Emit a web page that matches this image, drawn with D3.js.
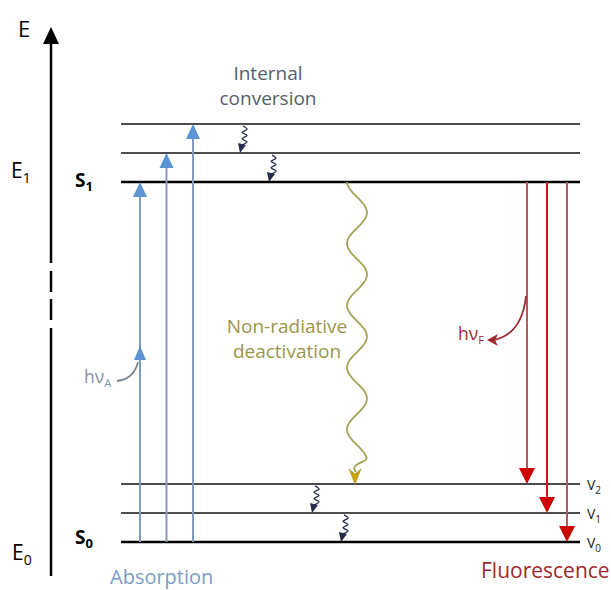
<!DOCTYPE html>
<html><head><meta charset="utf-8">
<script src="https://cdn.jsdelivr.net/npm/d3@7/dist/d3.min.js"></script>
<style>body{margin:0;background:#fff}svg{display:block}text{font-family:"Open Sans",Lato,sans-serif}</style>
</head><body><svg id="c" width="611" height="590"></svg>
<script>
// ---- data ----
const levels = [
  {state:"S0", v:0, energy:0,    thick:true},
  {state:"S0", v:1, energy:1,    thick:false},
  {state:"S0", v:2, energy:2,    thick:false},
  {state:"S1", v:0, energy:12.4, thick:true},
  {state:"S1", v:1, energy:13.4, thick:false},
  {state:"S1", v:2, energy:14.4, thick:false}
];
const absorption = [ {from:0, to:12.4}, {from:0, to:13.4}, {from:0, to:14.4} ];
const fluorescence = [ {from:12.4, to:2}, {from:12.4, to:1}, {from:12.4, to:0} ];
const internalConv = [ {from:14.4, to:13.4}, {from:13.4, to:12.4}, {from:2, to:1}, {from:1, to:0} ];
const nonRadiative = [ {from:12.4, to:2} ];
const energyLabels = ["E","E1","E0"];

const svg = d3.select("#c");
const y = d3.scaleLinear().domain([0, 14.4]).range([542, 124]);
const xLevel = d3.scaleLinear().domain([0,1]).range([121, 580]);
const xAbs = d3.scalePoint().domain(d3.range(absorption.length)).range([140, 193]);
const xFl = d3.scalePoint().domain(d3.range(fluorescence.length)).range([527, 567]);
const icX = [243, 272, 315, 344];

// energy axis
const ax = 51;
[[40,263],[271,292],[299,320],[328,576]].forEach(d=>svg.append("line").attr("x1",ax).attr("x2",ax).attr("y1",d[0]).attr("y2",d[1]).attr("stroke","#000").attr("stroke-width",2.5));
svg.append("path").attr("d",`M${ax},27 L${ax-8},44 L${ax+8},44 Z`).attr("fill","#000");
svg.append("text").attr("x",18).attr("y",37).attr("font-size",22).text(energyLabels[0]);
const e1 = svg.append("text").attr("x",11).attr("y",178).attr("font-size",21).text("E");
e1.append("tspan").attr("font-size",14).attr("dy",5).text("1");
const e0 = svg.append("text").attr("x",12).attr("y",560).attr("font-size",21).text("E");
e0.append("tspan").attr("font-size",14).attr("dy",5).text("0");

// levels
svg.selectAll("line.lvl").data(levels).join("line").attr("class","lvl")
  .attr("x1",xLevel(0)).attr("x2",xLevel(1))
  .attr("y1",d=>y(d.energy)).attr("y2",d=>y(d.energy))
  .attr("stroke",d=>d.thick?"#000":"#111").attr("stroke-width",d=>d.thick?2.4:1.4);

// state labels
[["S","1",187],["S","0",544]].forEach(([s,sub,yy])=>{
  const t = svg.append("text").attr("x",75).attr("y",yy).attr("font-size",19).attr("font-weight","bold").text(s);
  t.append("tspan").attr("font-size",13).attr("dy",4).text(sub);
});
// V labels
levels.filter(d=>d.state==="S0").forEach(d=>{
  const t = svg.append("text").attr("x",587).attr("y",y(d.energy)+6).attr("font-size",14).attr("fill","#222").text("V");
  t.append("tspan").attr("font-size",10).attr("dy",4).text(String(d.v));
});

// absorption arrows
absorption.forEach((d,i)=>{
  const x = xAbs(i);
  svg.append("line").attr("x1",x).attr("x2",x).attr("y1",y(d.from)).attr("y2",y(d.to)+12).attr("stroke","#7f9cc0").attr("stroke-width",2);
  svg.append("path").attr("d",`M${x},${y(d.to)} L${x-7},${y(d.to)+15} L${x+7},${y(d.to)+15} Z`).attr("fill","#5b93d3");
});
// hvA
svg.append("path").attr("d","M117,381 Q134,379 138,362").attr("fill","none").attr("stroke","#7a8799").attr("stroke-width",1.8);
svg.append("path").attr("d",`M${xAbs(0)},346 L${xAbs(0)-6},360 L${xAbs(0)+6},360 Z`).attr("fill","#5b93d3");
const hva = svg.append("text").attr("x",84).attr("y",383).attr("font-size",17.5).attr("fill","#8290a8").text("hν");
hva.append("tspan").attr("font-size",11).attr("dy",4).text("A");

// fluorescence arrows
const flLine = ["#b55a5c","#d0181c","#b55a5c"];
fluorescence.forEach((d,i)=>{
  const x = xFl(i);
  svg.append("line").attr("x1",x).attr("x2",x).attr("y1",y(d.from)).attr("y2",y(d.to)-14).attr("stroke",flLine[i]).attr("stroke-width",2);
  svg.append("path").attr("d",`M${x},${y(d.to)} L${x-8},${y(d.to)-16} L${x+8},${y(d.to)-16} Z`).attr("fill","#cc0000");
});
// hvF
svg.append("path").attr("d","M526,296 Q522,334 494,340").attr("fill","none").attr("stroke","#a0282c").attr("stroke-width",1.8);
svg.append("path").attr("d","M487,340 L498,334 L495,340 L498,346 Z").attr("fill","#a0282c");
const hvf = svg.append("text").attr("x",458).attr("y",340).attr("font-size",17.5).attr("fill","#a0282c").text("hν");
hvf.append("tspan").attr("font-size",11).attr("dy",4).text("F");

// internal conversion squiggles
internalConv.forEach((d,i)=>{
  const x0 = icX[i], y0 = y(d.from)+2, y1 = y(d.to);
  const h = y1 - y0 - 8;
  const pts = [[x0,y0]];
  const n = 6;
  for(let k=1;k<=n;k++) pts.push([x0 + (k%2===1 ? 4 : -1), y0 + h*k/n]);
  svg.append("path").attr("d",d3.line().curve(d3.curveCatmullRom)(pts)).attr("fill","none").attr("stroke","#2e3350").attr("stroke-width",1.4);
  const bx = x0 - 1, by = y0 + h;
  svg.append("path").attr("d",`M${bx-4},${by-2} L${bx+4},${by} L${bx-2},${y1} Z`).attr("fill","#252a4a");
});
const ic = svg.append("text").attr("x",268).attr("y",80).attr("text-anchor","middle").attr("font-size",19).attr("fill","#565e6c");
ic.append("tspan").attr("x",268).text("Internal");
ic.append("tspan").attr("x",268).attr("dy",25).text("conversion");

// non-radiative wave
nonRadiative.forEach(d=>{
  const ys = y(d.from), ye = y(d.to);
  const pts = d3.range(ys, 462, 2).map(yy=>[357 + 10*Math.sin(2*Math.PI*(yy-197)/62), yy]);
  pts.push([352,466],[356,472]);
  svg.append("path").attr("d",d3.line().curve(d3.curveBasis)(pts)).attr("fill","none").attr("stroke","#a3a255").attr("stroke-width",1.8);
  svg.append("path").attr("d",`M355,${ye} L349,${ye-15} L355,${ye-10} L361,${ye-15} Z`).attr("fill","#c8a206").attr("stroke","#a08a20").attr("stroke-width",0.6);
});
const nr = svg.append("text").attr("x",287).attr("y",333).attr("text-anchor","middle").attr("font-size",19).attr("fill","#9c9548");
nr.append("tspan").attr("x",287).text("Non-radiative");
nr.append("tspan").attr("x",287).attr("dy",25).text("deactivation");

// bottom labels
svg.append("text").attr("x",110).attr("y",584).attr("font-size",20).attr("fill","#7b9cc4").text("Absorption");
svg.append("text").attr("x",481).attr("y",578).attr("font-size",21).attr("fill","#a0282c").text("Fluorescence");
</script></body></html>
